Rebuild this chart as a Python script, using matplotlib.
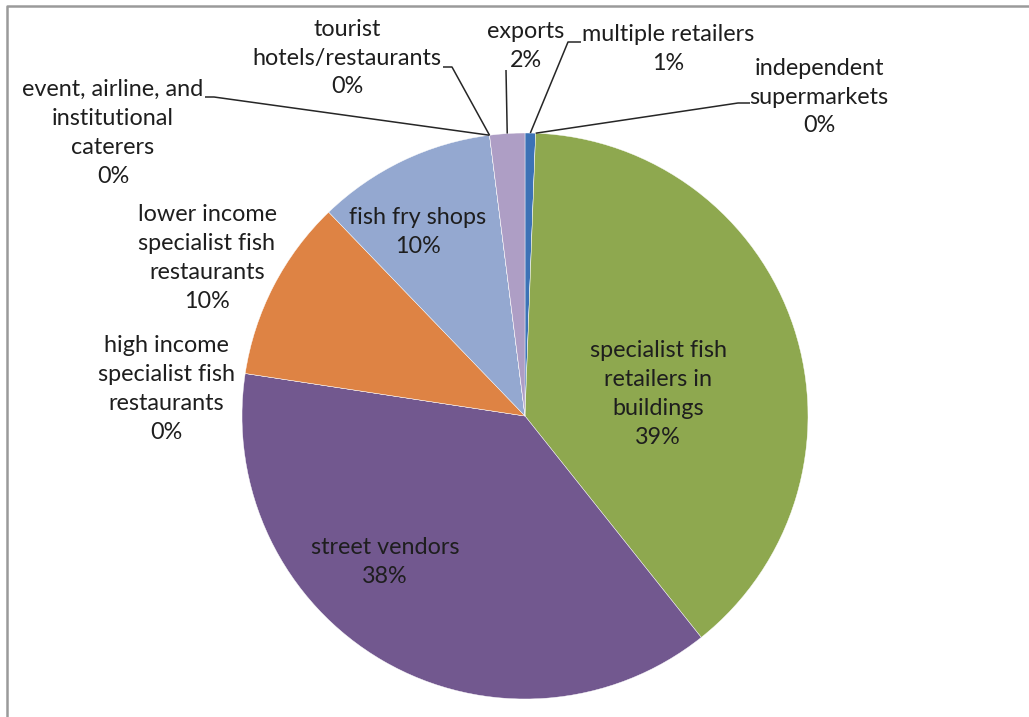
import numpy as np
import matplotlib.pyplot as plt

W, H = 1029, 717

# slices in drawing order, clockwise from 12 o'clock
categories = ['multiple retailers', 'independent\nsupermarkets',
              'specialist fish\nretailers in\nbuildings', 'street vendors',
              'high income\nspecialist fish\nrestaurants',
              'lower income\nspecialist fish\nrestaurants', 'fish fry shops',
              'event, airline, and\ninstitutional\ncaterers',
              'tourist\nhotels/restaurants', 'exports']
shares = [0.6, 0.0, 38.7, 38.1, 0.0, 10.4, 10.2, 0.0, 0.0, 2.0]
colors = ['#3c72b6', '#c0504d', '#8ea84f', '#72588f', '#4bacc6',
          '#de8344', '#94a8d0', '#d99795', '#c3d69b', '#ae9ec5']

# label centres in pixels (from top-left) and leader start/knee, None = no leader
label_pos = [(668, 49), (819, 97), (658, 394), (385, 562), (166, 389),
             (207, 258), (418, 232), (113, 133), (347, 58), (526, 46)]
leaders = [((581, 42), (568, 42)), ((750, 103), (738, 103)), None, None, None,
           None, None, ((205, 97), (214, 97)), ((443, 67), (452, 67)),
           ((506, 70), (506, 70))]

cx, cy, r = 525, 416, 283

plt.rcParams['font.family'] = ['Lato', 'DejaVu Sans']

fig = plt.figure(figsize=(W / 100, H / 100), dpi=100)
ax = fig.add_axes([0, 0, 1, 1])

def px(x, y):
    return x, H - y

wedges, _ = ax.pie(shares, colors=colors, startangle=90, counterclock=False,
                   center=px(cx, cy), radius=r,
                   wedgeprops=dict(edgecolor='white', linewidth=0.3))

total = sum(shares)
for w, name, v, pos, ld in zip(wedges, categories, shares, label_pos, leaders):
    txt = name + '\n' + '%.0f%%' % (v / total * 100)
    ax.text(*px(*pos), txt, ha='center', va='center', multialignment='center',
            fontsize=16.8, color='#1e1e1e', linespacing=1.47)
    if ld is not None:
        mid = np.deg2rad((w.theta1 + w.theta2) / 2)
        ex = w.center[0] + r * np.cos(mid)
        ey = w.center[1] + r * np.sin(mid)
        (x0, y0), (x1, y1) = px(*ld[0]), px(*ld[1])
        ax.plot([x0, x1, ex], [y0, y1, ey], color='#262626', lw=1.1,
                solid_capstyle='butt')

# chart area border (only top and left edges fall inside the image)
ax.plot([7, 7, W], [0, H - 5.5, H - 5.5], color='#9a9a9a', lw=1.8)

ax.set_xlim(0, W)
ax.set_ylim(0, H)
ax.set_aspect('equal')
ax.axis('off')

fig.savefig('out.png', dpi=100)
